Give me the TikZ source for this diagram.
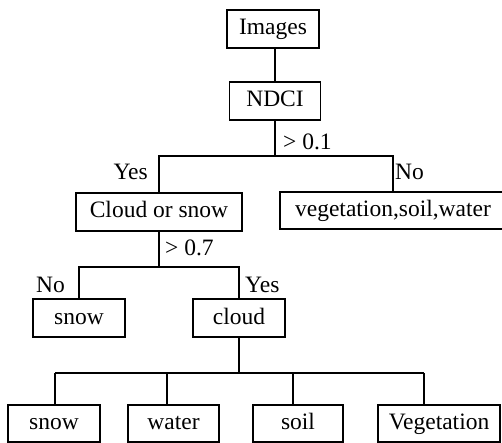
\documentclass[tikz,border=0pt]{standalone}
\usepackage{fontspec}
\setmainfont{Liberation Serif}
\usepackage{tikz}
\usetikzlibrary{positioning, calc}
\tikzstyle{box} = [rectangle, draw, line width=1.8pt, inner sep=0pt, minimum height=38pt, text height=17pt, text depth=5pt]
\tikzstyle{line} = [draw, line width=1.8pt]
\tikzstyle{lbl} = [inner sep=0pt]

\begin{document}
\begin{tikzpicture}[x=1pt, y=-1pt, font=\fontsize{23.5}{28}\selectfont]
    \useasboundingbox (0,0) rectangle (502,443);
    % boxes
    \node (images) [box, minimum width=92pt] at (273,29) {Images};
    \node (ndci) [box, minimum width=91pt] at (275,101) {NDCI};
    \node (cos) [box, minimum width=166pt] at (159,212) {Cloud or snow};
    \node (vsw) [box, minimum width=226pt, minimum height=37pt] at (393,210.5) {vegetation,soil,water};
    \node (snowa) [box, minimum width=92pt] at (79,318) {snow};
    \node (cloud) [box, minimum width=92pt] at (239,318) {cloud};
    \node (snowb) [box, minimum width=92pt, minimum height=37pt] at (54,423.5) {snow};
    \node (water) [box, minimum width=91pt, minimum height=37pt] at (173.5,423.5) {water};
    \node (soil) [box, minimum width=90pt, minimum height=37pt] at (298,423.5) {soil};
    \node (veg) [box, minimum width=122pt, minimum height=37pt] at (439,423.5) {Vegetation};

    % junctions
    \coordinate (j1) at (275,156);
    \coordinate (j2) at (158,267);
    \coordinate (j3) at (239,373);

    \draw [line] (ndci.north) -- (ndci.north |- images.south);
    \draw [line] (ndci.south) -- (j1);
    \draw [line] (cos.north) -- (cos.north |- j1) -- (j1 -| vsw.north) -- (vsw.north);
    \draw [line] (cos.south) -- (cos.south |- j2);
    \draw [line] (snowa.north) -- (snowa.north |- j2) -- (j2 -| cloud.north) -- (cloud.north);
    \draw [line] (cloud.south) -- (j3);

    % bottom row
    \foreach \n/\x [count=\i] in {snowb/55, water/167, soil/293, veg/424} {
        \coordinate (t\i) at (\x,373);
        \draw [line] (t\i) -- (t\i |- \n.north);
    }
    \draw [line] (t1) -- (t4);

    % labels
    \node (gta) [lbl, anchor=base west] at (283,150) {> 0.1};
    \node (yesa) [lbl, anchor=base east] at (148,180) {Yes};
    \node (noa) [lbl, anchor=base west] at (395,180) {No};
    \node (gtb) [lbl, anchor=base west] at (165,255) {> 0.7};
    \node (nob) [lbl, anchor=base east] at (65,292) {No};
    \node (yesb) [lbl, anchor=base west] at (245,292) {Yes};
\end{tikzpicture}
\end{document}
